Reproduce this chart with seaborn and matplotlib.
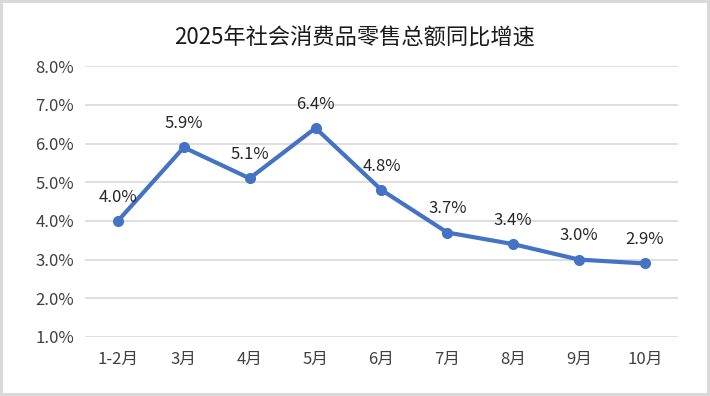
import pandas as pd
import matplotlib.pyplot as plt
import seaborn as sns
from matplotlib.ticker import FuncFormatter

# 数据
months = ['1-2月', '3月', '4月', '5月', '6月', '7月', '8月', '9月', '10月']
growth = [4.0, 5.9, 5.1, 6.4, 4.8, 3.7, 3.4, 3.0, 2.9]
title = '2025年社会消费品零售总额同比增速'

df = pd.DataFrame({'month': months, 'growth': growth})

sns.set_style('white')
plt.rcParams['font.family'] = ['Noto Sans CJK SC', 'DejaVu Sans']

fig = plt.figure(figsize=(7.1, 3.96), dpi=100, edgecolor='#d9d9d9', linewidth=3)
ax = fig.add_axes([0.1197, 0.149, 0.835, 0.684])

sns.lineplot(data=df, x='month', y='growth', ax=ax, color='#4472C4',
             linewidth=3, marker='o', markersize=8, markeredgewidth=0, sort=False)

for i, v in enumerate(growth):
    ax.annotate(f'{v:.1f}%', (i, v), xytext=(0, 11), textcoords='offset points',
                ha='center', va='bottom', fontsize=12, color='#262626')

ax.set_ylim(1.0, 8.0)
ax.set_yticks([1, 2, 3, 4, 5, 6, 7, 8])
ax.yaxis.set_major_formatter(FuncFormatter(lambda y, _: f'{y:.1f}%'))
ax.set_xlim(-0.5, len(months) - 0.5)
ax.grid(axis='y', color='#d9d9d9', linewidth=1.2)
ax.set_axisbelow(True)
for s in ax.spines.values():
    s.set_visible(False)
ax.tick_params(axis='both', length=0, labelsize=12, colors='#404040')
ax.tick_params(axis='x', pad=10)
ax.tick_params(axis='y', pad=8)
ax.set_xlabel('')
ax.set_ylabel('')

fig.text(0.5, 0.905, title, ha='center', va='center', fontsize=16, color='#1a1a1a')

plt.savefig('out.png', dpi=100, edgecolor=fig.get_edgecolor())
